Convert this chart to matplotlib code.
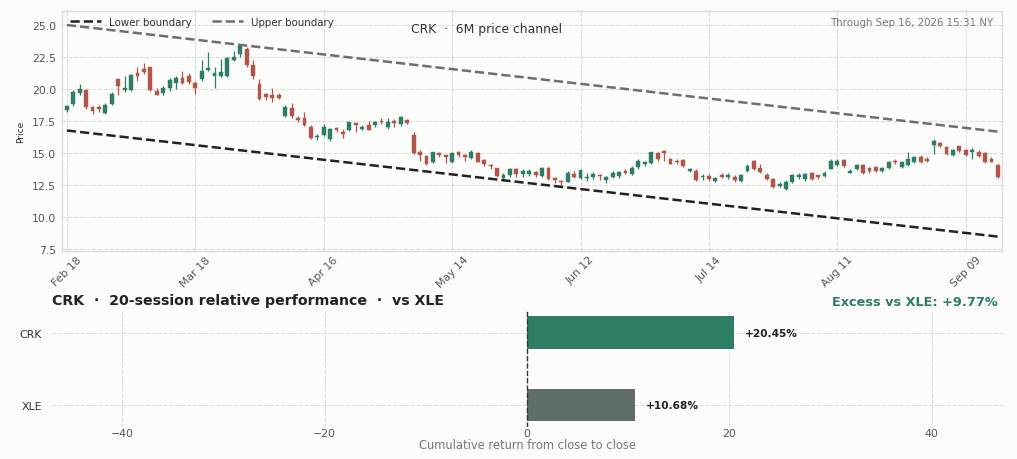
import matplotlib
matplotlib.use("Agg")
import matplotlib.pyplot as plt
from matplotlib.patches import Rectangle
import numpy as np

plt.rcParams['font.family'] = ['DejaVu Sans']

# ---------------- data ----------------
opens = [18.35,18.82,19.65,19.95,18.55,18.6,18.15,18.85,20.8,19.9,
         19.9,21.25,21.55,21.7,19.85,19.7,20.05,20.5,20.85,21.0,
         20.45,20.75,21.5,21.0,21.0,21.05,22.3,22.75,23.15,21.85,
         20.4,19.6,19.5,19.5,17.9,18.5,17.75,17.7,17.05,16.25,
         16.4,16.1,16.95,16.65,16.75,17.35,16.9,17.2,17.15,17.5,
         17.0,17.5,17.25,17.55,16.4,15.05,14.75,14.3,14.95,14.8,
         14.3,15.1,14.85,14.6,15.0,14.45,14.05,13.8,13.0,13.25,
         13.7,13.35,13.35,13.5,13.2,13.85,13.0,12.8,12.75,13.35,
         13.05,13.05,13.1,13.25,12.85,13.1,13.2,13.6,13.35,13.9,
         14.15,14.2,14.95,15.15,14.5,14.35,14.45,13.6,13.6,13.1,
         13.2,12.8,13.25,13.15,13.15,12.8,13.6,14.4,13.85,13.25,
         12.95,12.4,12.2,12.7,13.1,12.95,13.45,13.25,13.2,13.75,
         14.05,14.45,13.45,13.7,14.05,13.8,13.9,13.55,13.8,14.4,
         13.9,14.05,14.25,14.65,14.5,15.65,15.75,15.45,14.85,15.5,
         15.2,15.05,15.1,15.0,14.55,14.05]
highs = [18.75,19.95,20.35,20.0,18.7,18.75,18.9,19.75,20.85,21.05,
         21.15,21.7,22.0,21.75,20.1,20.2,20.85,21.0,21.4,21.25,
         20.6,22.3,22.85,21.7,22.35,22.5,23.0,23.5,23.25,22.25,
         20.8,19.7,20.1,19.7,18.75,18.9,17.9,18.2,17.15,16.5,
         17.25,16.95,17.05,16.85,17.45,17.45,17.2,17.5,17.5,17.75,
         17.75,17.65,17.85,17.65,16.6,15.2,14.8,15.1,15.1,14.85,
         15.1,15.18,14.9,15.2,15.05,14.55,14.1,13.85,13.4,13.85,
         13.85,13.7,13.7,13.55,13.9,13.9,13.15,12.85,13.55,13.55,
         13.75,13.45,13.5,13.35,13.2,13.55,13.6,13.75,13.95,14.55,
         14.4,15.1,15.1,15.2,14.6,14.5,14.5,13.85,13.7,13.35,
         13.35,13.15,13.4,13.45,13.25,13.35,14.1,14.45,14.15,13.45,
         13.05,12.7,12.85,13.35,13.45,13.45,13.5,13.3,13.6,14.5,
         14.5,14.5,13.75,14.15,14.1,13.9,13.95,13.9,14.35,14.55,
         14.35,15.1,14.75,14.8,14.65,16.05,15.85,15.55,15.3,15.55,
         15.3,15.35,15.2,15.05,14.7,14.1]
lows = [18.2,18.7,19.55,18.4,18.05,18.2,18.05,18.75,19.5,19.75,
        19.8,20.65,21.15,19.85,19.5,19.5,19.85,20.0,20.4,20.4,
        19.6,20.65,21.4,20.05,20.95,20.95,22.2,22.5,21.75,20.8,
        19.15,19.1,19.0,19.2,17.8,17.7,17.45,17.1,16.1,16.0,
        16.3,15.95,16.65,16.2,16.7,16.65,16.8,16.75,17.0,17.25,
        16.9,17.0,17.1,17.25,14.9,14.4,14.05,14.2,14.65,14.2,
        14.2,14.7,14.4,14.5,14.25,14.0,13.7,13.1,12.8,13.15,
        13.15,13.15,13.2,13.15,13.1,12.9,12.65,12.45,12.7,13.0,
        12.95,12.8,12.95,12.9,12.65,13.0,13.05,13.35,13.25,13.75,
        14.0,14.1,14.4,14.4,14.1,14.1,13.9,13.5,12.8,12.9,
        12.8,12.7,13.0,12.95,12.75,12.75,13.5,13.65,13.4,12.85,
        12.25,12.3,12.1,12.65,12.95,12.8,12.9,12.95,13.1,13.7,
        14.0,13.9,13.4,13.65,13.35,13.45,13.5,13.5,13.75,14.15,
        13.8,14.0,14.2,14.2,14.25,14.9,15.45,14.85,14.75,15.1,
        14.75,14.55,14.7,14.2,14.25,13.0]
closes = [18.65,19.79,20.0,18.6,18.3,18.4,18.75,19.6,20.2,20.1,
          21.1,21.0,21.3,19.95,19.55,20.1,20.7,20.85,20.5,20.55,
          20.05,21.4,21.65,21.25,21.35,22.4,22.5,23.35,21.85,21.0,
          19.2,19.4,19.3,19.3,18.55,17.85,17.55,17.2,16.2,16.35,
          17.0,16.85,16.75,16.5,17.4,17.2,17.05,16.8,17.4,17.45,
          17.45,17.35,17.8,17.35,15.0,14.85,14.1,15.05,14.8,14.65,
          15.0,14.85,14.65,15.1,14.3,14.1,13.95,13.2,13.25,13.75,
          13.35,13.55,13.55,13.3,13.85,12.95,12.85,12.7,13.45,13.15,
          13.65,13.1,13.35,13.2,13.1,13.45,13.5,13.45,13.85,14.4,
          14.3,15.05,14.55,15.0,14.15,14.25,13.95,13.75,12.85,13.2,
          12.95,13.05,13.1,13.25,12.85,13.3,13.95,13.7,13.5,12.95,
          12.3,12.6,12.75,13.25,13.25,13.35,12.95,13.15,13.45,14.4,
          14.4,13.95,13.6,14.05,13.45,13.55,13.55,13.8,14.25,14.25,
          14.25,14.5,14.65,14.25,14.4,15.95,15.5,14.9,15.25,15.15,
          14.85,15.2,14.75,14.25,14.3,13.1]

tick_positions = [0, 20, 40, 60, 80, 100, 120, 140]
tick_labels = ['Feb 18', 'Mar 18', 'Apr 16', 'May 14', 'Jun 12', 'Jul 14', 'Aug 11', 'Sep 09']

lower_channel = [16.75, 8.45]   # start, end
upper_channel = [25.0, 16.66]   # start, end

perf_names = ['CRK', 'XLE']
perf_values = [20.45, 10.68]
excess = 9.77

# ---------------- style ----------------
BG = '#fcfcfa'
GREEN = '#2e7d66'
RED = '#b0564b'
GRID = '#dcdcdc'
TICK = '#555555'

fig = plt.figure(figsize=(10.17, 4.60), dpi=100, facecolor=BG)

# ---------------- top: candles ----------------
ax = fig.add_axes([0.0607, 0.4515, 0.9243, 0.5231], facecolor=BG)
n = len(opens)
xs = np.arange(n)
w = 0.6
for i in range(n):
    o, h, l, c = opens[i], highs[i], lows[i], closes[i]
    col = GREEN if c >= o else RED
    ax.vlines(xs[i], l, h, color=col, linewidth=0.9, zorder=3)
    bot = min(o, c)
    hgt = max(abs(c - o), 0.04)
    ax.add_patch(Rectangle((xs[i] - w / 2, bot), w, hgt, facecolor=col,
                           edgecolor=col, linewidth=0.3, zorder=4))

x_end = n - 1
ax.plot([0, x_end], lower_channel, linestyle='--', color='#222222',
        linewidth=1.8, label='Lower boundary', zorder=5)
ax.plot([0, x_end], upper_channel, linestyle='--', color='#6e6e6e',
        linewidth=1.8, label='Upper boundary', zorder=5)

ax.set_xlim(-0.8, 145.6)
ax.set_ylim(7.3, 26.12)
ax.set_yticks([7.5, 10.0, 12.5, 15.0, 17.5, 20.0, 22.5, 25.0])
ax.set_yticklabels(['7.5', '10.0', '12.5', '15.0', '17.5', '20.0', '22.5', '25.0'])
ax.set_xticks(tick_positions)
ax.set_xticklabels(tick_labels, rotation=45, ha='center')
ax.tick_params(axis='both', colors=TICK, labelsize=7.8, length=0, pad=4)
ax.tick_params(axis='x', pad=2)
ax.grid(True, linestyle='--', color=GRID, linewidth=0.8)
ax.set_axisbelow(True)
for s in ax.spines.values():
    s.set_color('#dddddd')
    s.set_linewidth(1.0)
ax.set_ylabel('Price', fontsize=6.5, color='#333333', labelpad=5)

leg = ax.legend(loc='upper left', ncol=2, frameon=False, fontsize=7.4,
                handlelength=3.0, columnspacing=2.0, borderaxespad=0.1,
                bbox_to_anchor=(0.003, 0.995))
for t in leg.get_texts():
    t.set_color('#333333')

fig.text(487 / 1017, 1 - 29 / 460, 'CRK  ·  6M price channel', ha='center', va='center',
         fontsize=8.9, color='#333333')
fig.text(993 / 1017, 1 - 23 / 460, 'Through Sep 16, 2026 15:31 NY', ha='right', va='center',
         fontsize=7.4, color='#777777')

# ---------------- bottom: relative performance ----------------
ax2 = fig.add_axes([0.0497, 0.070, 0.938, 0.252], facecolor=BG)
ypos = [0, 1]
bar_colors = [GREEN, '#5f6f67']
ax2.barh(ypos, perf_values, height=0.45, color=bar_colors, zorder=3)
ax2.set_ylim(1.3, -0.3)
ax2.set_xlim(-47.1, 47.2)
ax2.set_yticks(ypos)
ax2.set_yticklabels(perf_names)
ax2.set_xticks([-40, -20, 0, 20, 40])
ax2.set_xticklabels(['\u221240', '\u221220', '0', '20', '40'])
ax2.tick_params(axis='both', length=0, labelsize=7.8, pad=4)
ax2.tick_params(axis='x', colors=TICK, pad=1)
ax2.tick_params(axis='y', colors='#333333', pad=6)
ax2.grid(True, linestyle='--', color=GRID, linewidth=0.8)
ax2.set_axisbelow(True)
for s in ax2.spines.values():
    s.set_visible(False)
ax2.axvline(0, color='#333333', linestyle='--', linewidth=1.0, zorder=4)
for y, v in zip(ypos, perf_values):
    ax2.text(v + 1.1, y, f'+{v:.2f}%', ha='left', va='center', fontsize=7.6,
             fontweight='bold', color='#222222', zorder=5)
ax2.set_xlabel('Cumulative return from close to close', fontsize=8.3, color='#777777', labelpad=0)

fig.text(52 / 1017, 1 - 301 / 460, 'CRK  ·  20-session relative performance  ·  vs XLE',
         ha='left', va='center', fontsize=10.2, fontweight='bold', color='#222222')
fig.text(998 / 1017, 1 - 303 / 460, f'Excess vs XLE: +{excess:.2f}%', ha='right', va='center',
         fontsize=9.3, fontweight='bold', color=GREEN)

fig.savefig('out.png', dpi=100, facecolor=BG)
